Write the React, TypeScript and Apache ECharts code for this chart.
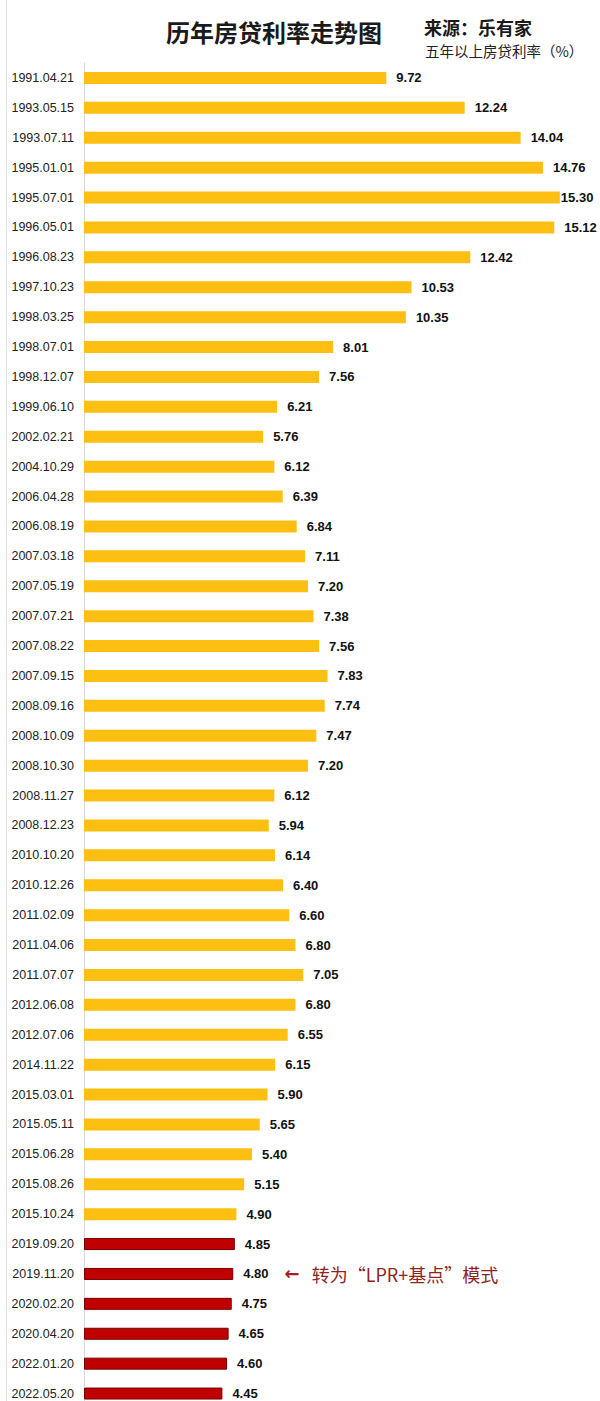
import React, { useEffect, useRef } from "react";
import * as echarts from "echarts";

const categories = [
  "1991.04.21", "1993.05.15", "1993.07.11", "1995.01.01", "1995.07.01", "1996.05.01",
  "1996.08.23", "1997.10.23", "1998.03.25", "1998.07.01", "1998.12.07", "1999.06.10",
  "2002.02.21", "2004.10.29", "2006.04.28", "2006.08.19", "2007.03.18", "2007.05.19",
  "2007.07.21", "2007.08.22", "2007.09.15", "2008.09.16", "2008.10.09", "2008.10.30",
  "2008.11.27", "2008.12.23", "2010.10.20", "2010.12.26", "2011.02.09", "2011.04.06",
  "2011.07.07", "2012.06.08", "2012.07.06", "2014.11.22", "2015.03.01", "2015.05.11",
  "2015.06.28", "2015.08.26", "2015.10.24", "2019.09.20", "2019.11.20", "2020.02.20",
  "2020.04.20", "2022.01.20", "2022.05.20",
];

const rates = [
  9.72, 12.24, 14.04, 14.76, 15.3, 15.12,
  12.42, 10.53, 10.35, 8.01, 7.56, 6.21,
  5.76, 6.12, 6.39, 6.84, 7.11, 7.2,
  7.38, 7.56, 7.83, 7.74, 7.47, 7.2,
  6.12, 5.94, 6.14, 6.4, 6.6, 6.8,
  7.05, 6.8, 6.55, 6.15, 5.9, 5.65,
  5.4, 5.15, 4.9, 4.85, 4.8, 4.75,
  4.65, 4.6, 4.45,
];

const LPR_FROM = "2019.09.20";
const ANNOTATION_AT = "2019.11.20";
const ANNOTATION_TEXT = "转为“LPR+基点”模式";
const TITLE = "历年房贷利率走势图";
const SOURCE = "来源：乐有家";
const UNIT = "五年以上房贷利率（%）";

const YELLOW = "#FCBF12";
const RED = "#C00000";

export default function App() {
  const ref = useRef<HTMLDivElement>(null);

  useEffect(() => {
    if (!ref.current) return;
    const chart = echarts.init(ref.current, undefined, { renderer: "svg" });
    const lprIdx = categories.indexOf(LPR_FROM);
    const annIdx = categories.indexOf(ANNOTATION_AT);
    const maxVal = Math.max(...rates);

    const data = rates.map((v, i) => {
      const isLpr = i >= lprIdx;
      const item: any = {
        value: v,
        itemStyle: isLpr
          ? { color: RED, borderColor: "#7A0000", borderWidth: 1 }
          : { color: YELLOW },
      };
      if (v === maxVal) item.label = { distance: 1 };
      return item;
    });

    chart.setOption({
      animation: false,
      backgroundColor: "#ffffff",
      title: {
        text: TITLE,
        left: 161,
        top: 14,
        textStyle: {
          fontFamily: "Noto Sans CJK SC",
          fontSize: 24,
          fontWeight: "bold",
          color: "#1a1a1a",
        },
      },
      graphic: [
        {
          type: "line",
          shape: { x1: 6.5, y1: 0, x2: 6.5, y2: 1401 },
          style: { stroke: "#e4e4e4", lineWidth: 1 },
          silent: true,
        },
        {
          type: "text",
          left: 424,
          top: 18,
          style: {
            text: SOURCE,
            font: "bold 18px 'Noto Sans CJK SC'",
            fill: "#1a1a1a",
          },
        },
        {
          type: "text",
          left: 425,
          top: 43,
          style: {
            text: UNIT,
            font: "14.5px 'Noto Sans CJK SC'",
            fill: "#222",
          },
        },
      ],
      grid: {
        left: 84,
        top: 63,
        width: 16 * 31.1,
        height: 45 * 29.9,
        containLabel: false,
        outerBoundsMode: "none",
      },
      xAxis: {
        type: "value",
        min: 0,
        max: 16,
        show: false,
      },
      yAxis: {
        type: "category",
        inverse: true,
        data: categories,
        axisLine: { show: true, lineStyle: { color: "#d9d9d9", width: 1 } },
        axisTick: { show: false },
        axisLabel: {
          margin: 10,
          fontFamily: "Liberation Sans",
          fontSize: 12.5,
          color: "#222",
        },
      },
      series: [
        {
          type: "bar",
          data,
          barWidth: 12,
          label: {
            show: true,
            position: "right",
            distance: 10,
            formatter: (p: any) => {
              const txt = `{v|${Number(p.value).toFixed(2)}}`;
              if (p.dataIndex === annIdx) {
                return `${txt}{a|←}{t|${ANNOTATION_TEXT}}`;
              }
              return txt;
            },
            rich: {
              v: {
                fontFamily: "Liberation Sans",
                fontSize: 13,
                fontWeight: "bold",
                color: "#111",
              },
              a: {
                fontFamily: "DejaVu Sans",
                fontSize: 18,
                fontWeight: "bold",
                color: "#A31F1F",
                padding: [0, 12, 0, 16],
              },
              t: {
                fontFamily: "Noto Sans CJK SC",
                fontSize: 18,
                color: "#8E2424",
              },
            },
          },
        },
      ],
    });

    return () => chart.dispose();
  }, []);

  return (
    <div
      ref={ref}
      style={{ position: "absolute", left: 0, top: 0, width: 600, height: 1401 }}
    />
  );
}
